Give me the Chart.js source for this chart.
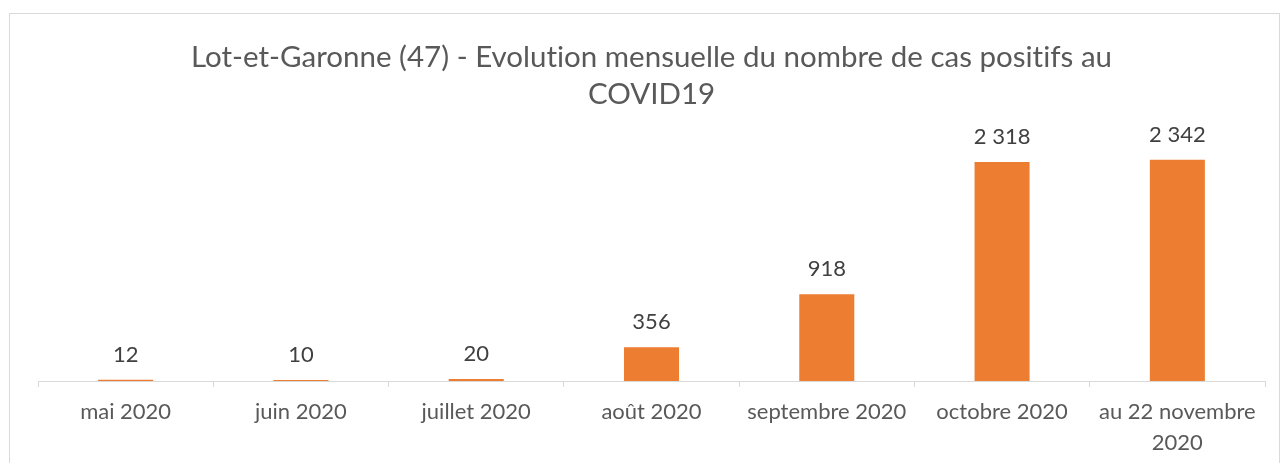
<!DOCTYPE html>
<html><head><meta charset="utf-8">
<script src="https://cdn.jsdelivr.net/npm/chart.js@4"></script>
<style>html,body{margin:0;padding:0;background:#fff;}#wrap{position:relative;width:1282px;height:463px;}</style>
</head><body><div id="wrap"><canvas id="c" width="1282" height="463"></canvas></div>
<script>
const categories = ["mai 2020","juin 2020","juillet 2020","août 2020","septembre 2020","octobre 2020",["au 22 novembre","2020"]];
const cases = [12,10,20,356,918,2318,2342];
const titleLines = ["Lot-et-Garonne (47) - Evolution mensuelle du nombre de cas positifs au","COVID19"];
const FONT = "Lato, sans-serif";
const fmt = v => String(v).replace(/\B(?=(\d{3})+(?!\d))/g, "\u00a0");

const frame = {
  id:'frame',
  beforeDraw(chart){
    const ctx = chart.ctx;
    try { ctx.textRendering = 'optimizeSpeed'; ctx.fontVariantLigatures = 'none'; } catch(e) {}
    ctx.save();
    ctx.strokeStyle = '#d9d9d9'; ctx.lineWidth = 1;
    ctx.strokeRect(9.5, 13.5, 1270, 470);
    ctx.restore();
  }
};
const labels = {
  id:'labels',
  afterDatasetsDraw(chart){
    const ctx = chart.ctx;
    const meta = chart.getDatasetMeta(0);
    ctx.save();
    ctx.font = "22px " + FONT;
    ctx.fillStyle = '#404040';
    ctx.textAlign = 'center'; ctx.textBaseline = 'middle';
    meta.data.forEach((bar,i)=>{
      ctx.fillText(fmt(cases[i]), bar.x, bar.y - 25);
    });
    ctx.restore();
  }
};

new Chart(document.getElementById('c'), {
  type:'bar',
  data:{labels:categories, datasets:[{data:cases, backgroundColor:'#ED7D31', borderWidth:0, categoryPercentage:1, barPercentage:0.314}]},
  options:{
    responsive:false, animation:false,
    layout:{padding:{left:38,right:17,top:0,bottom:0}},
    plugins:{
      legend:{display:false}, tooltip:{enabled:false},
      title:{display:true, text:titleLines, color:'#595959', font:{family:FONT, size:29.5, weight:'normal', lineHeight:1.25}, padding:{top:39,bottom:32}}
    },
    scales:{
      y:{display:false, min:0, max:2500},
      x:{
        offset:true,
        grid:{display:true, offset:true, drawOnChartArea:false, drawTicks:true, tickLength:6, color:'#d9d9d9'},
        border:{display:true, color:'#d9d9d9', width:1},
        ticks:{color:'#595959', font:{family:FONT, size:22, lineHeight:1.4}, padding:10, maxRotation:0, autoSkip:false},
        afterFit(s){ s.height = 82; }
      }
    }
  },
  plugins:[frame, labels]
});
</script></body></html>
